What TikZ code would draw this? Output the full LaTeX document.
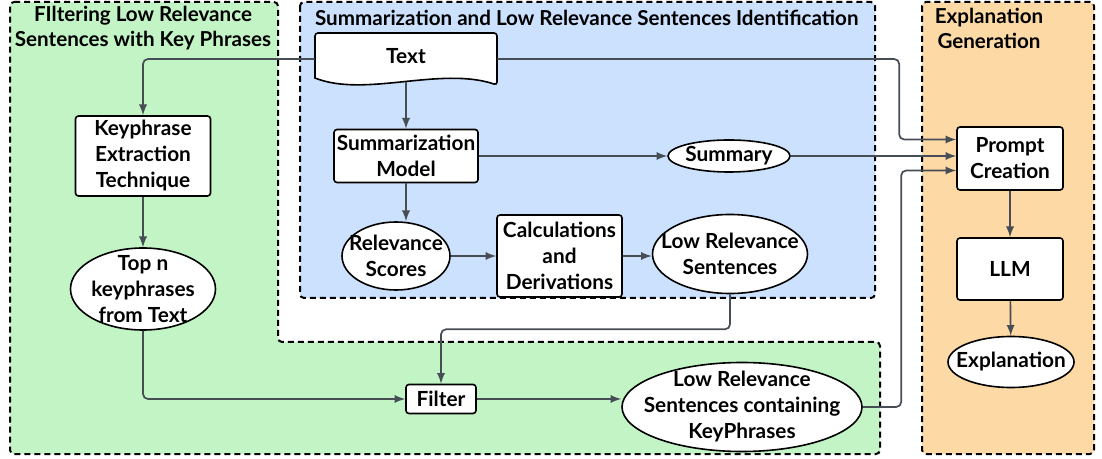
\documentclass[tikz,border=0pt]{standalone}
\usepackage{fontspec}
\setmainfont{Lato}
\usepackage{xcolor}
\usetikzlibrary{calc, shapes.geometric, positioning}

\definecolor{greenzone}{HTML}{C3F4C6}
\definecolor{bluezone}{HTML}{CCE1FD}
\definecolor{orangezone}{HTML}{FDD9A5}
\definecolor{linegray}{HTML}{474D55}

\tikzset{
    zone/.style={draw=black, line width=1pt, dash pattern=on 3pt off 2pt, rounded corners=2pt},
    boxnode/.style={draw, fill=white, line width=0.8pt, rounded corners=1.5pt, align=center, inner sep=1pt},
    ovalnode/.style={ellipse, draw, fill=white, line width=0.8pt, align=center, inner xsep=-30pt, inner ysep=-15pt},
    conn/.style={->, draw=linegray, line width=0.85pt, rounded corners=2.5pt},
    zonetitle/.style={align=center, font=\bfseries\fontsize{10.3}{12.5}\selectfont}
}

\begin{document}
\begin{tikzpicture}[>=latex, x=0.5pt, y=-0.5pt, font=\bfseries\fontsize{10.4}{13}\selectfont]
    \useasboundingbox (0,0) rectangle (1102,459);

    % Các vùng
    \draw[zone, fill=greenzone] (10,2) -- (278,2) -- (278,342) -- (880,342) -- (880,454) -- (10,454) -- cycle;
    \draw[zone, fill=bluezone] (300,2) rectangle (875,298);
    \draw[zone, fill=orangezone] (922,2) rectangle (1094,454);

    \node[zonetitle] (gtitle) at (143,28) {FIltering Low Relevance\\Sentences with Key Phrases};
    \node[zonetitle, anchor=west] (btitle) at (308,18) {Summarization and Low Relevance Sentences Identification};
    \node[zonetitle] (otitle) at (989,28) {Explanation\\Generation};

    % Văn bản
    \draw[line width=0.8pt, fill=white] (497,85) .. controls (440,66) and (365,98) .. (315,78)
        [rounded corners=1.5pt] -- (315,33) -- (497,33) -- cycle;
    \node[minimum width=91pt, minimum height=26pt, inner sep=0pt] (txt) at (406,59) {\raisebox{3pt}{Text}};

    % Các nút
    \node[boxnode, minimum width=67.5pt, minimum height=40pt] (kp) at (143,156) {Keyphrase\\Extraction\\Technique};
    \node[ovalnode, minimum width=72.5pt, minimum height=41pt] (tn) at (143,289) {Top n\\keyphrases\\from Text};
    \node[boxnode, minimum width=72pt, minimum height=26.5pt] (sm) at (406,156) {Summarization\\Model};
    \node[ovalnode, minimum width=61pt, minimum height=16pt] (sum) at (729,156) {Summary};
    \node[ovalnode, minimum width=54pt, minimum height=34pt] (rs) at (396,256) {Relevance\\Scores};
    \node[boxnode, minimum width=62.5pt, minimum height=41pt] (cd) at (559.5,256) {Calculations\\and\\Derivations};
    \node[ovalnode, minimum width=77.5pt, minimum height=39.5pt] (lr) at (730,254) {Low Relevance\\Sentences};
    \node[boxnode, minimum width=35pt, minimum height=14.5pt] (fl) at (441,399) {Filter};
    \node[ovalnode, minimum width=120pt, minimum height=44.5pt] (lrk) at (742,407) {Low Relevance\\Sentences containing\\KeyPhrases};
    \node[boxnode, minimum width=53pt, minimum height=31.5pt] (pc) at (1010,158.5) {Prompt\\Creation};
    \node[boxnode, minimum width=53pt, minimum height=31pt] (llm) at (1010,269) {LLM};
    \node[ovalnode, minimum width=63pt, minimum height=25.5pt] (ex) at (1011,362) {Explanation};

    % Các mũi tên
    \draw[conn] (txt.west) -| (kp.north);
    \draw[conn] ($(txt.south)+(0,-3)$) -- (sm.north);
    \draw[conn] (txt.east) -| ($(pc.west)+(-57,-19)$) -- ($(pc.west)+(0,-19)$);
    \draw[conn] (sm) -- (sum);
    \draw[conn] (sum.east) -- (sum.east -| pc.west);
    \draw[conn] (sm.south) -- (sm.south |- rs.north);
    \draw[conn] (rs) -- (cd);
    \draw[conn] (cd) -- (cd -| lr.west);
    \draw[conn] (lr.south) -- ++(0,35) -| (fl.north);
    \draw[conn] (kp) -- (tn);
    \draw[conn] (tn.south) |- (fl.west);
    \draw[conn] (fl.east) -- (fl.east -| lrk.west);
    \draw[conn] (lrk.east) -| ($(pc.west)+(-55,12)$) -- ($(pc.west)+(0,12)$);
    \draw[conn] (pc) -- (llm);
    \draw[conn] (llm) -- (ex);
\end{tikzpicture}
\end{document}
